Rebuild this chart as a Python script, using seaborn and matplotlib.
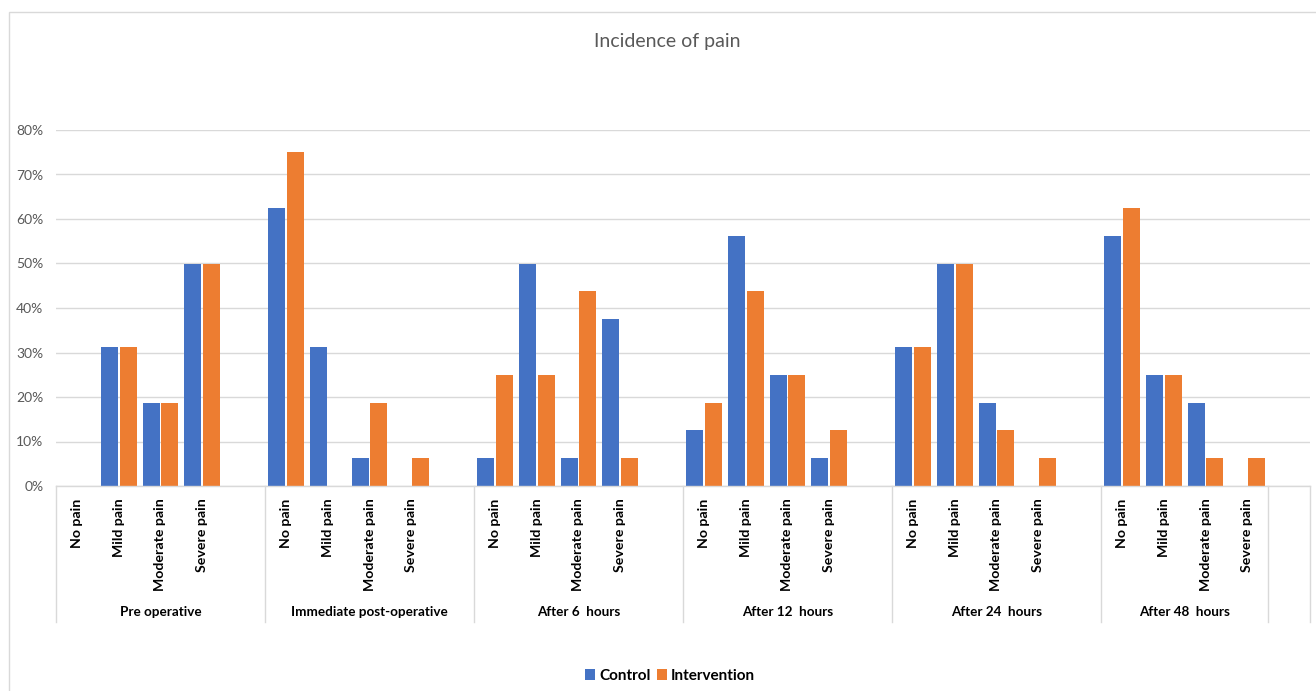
import matplotlib
matplotlib.use("Agg")
import matplotlib.pyplot as plt
import matplotlib.transforms as mtransforms
from matplotlib.patches import Patch, Rectangle
from matplotlib.ticker import FuncFormatter, MultipleLocator
import seaborn as sns
import pandas as pd

# ---- data ----
groups = ["Pre operative", "Immediate post-operative", "After 6  hours",
          "After 12  hours", "After 24  hours", "After 48  hours"]
levels = ["No pain", "Mild pain", "Moderate pain", "Severe pain"]
series = ["Control", "Intervention"]
control = [
    [0, 31.25, 18.75, 50],
    [62.5, 31.25, 6.25, 0],
    [6.25, 50, 6.25, 37.5],
    [12.5, 56.25, 25, 6.25],
    [31.25, 50, 18.75, 0],
    [56.25, 25, 18.75, 0],
]
intervention = [
    [0, 31.25, 18.75, 50],
    [75, 0, 18.75, 6.25],
    [25, 25, 43.75, 6.25],
    [18.75, 43.75, 25, 12.5],
    [31.25, 50, 12.5, 6.25],
    [62.5, 25, 6.25, 6.25],
]
colors = ["#4472C4", "#ED7D31"]

# ---- build table ----
rows = []
for gi, g in enumerate(groups):
    for li, lv in enumerate(levels):
        key = f"{gi}|{lv}"
        rows.append({"slot": key, "Series": series[0], "value": control[gi][li] / 100})
        rows.append({"slot": key, "Series": series[1], "value": intervention[gi][li] / 100})
df = pd.DataFrame(rows)

order, ticklabels, group_spans = [], [], []
for gi, g in enumerate(groups):
    start = len(order)
    for lv in levels:
        order.append(f"{gi}|{lv}")
        ticklabels.append(lv)
    if gi < len(groups) - 1:
        order.append(f"{gi}|_blank")
        ticklabels.append("")
    group_spans.append((start, len(order)))
order.append("extra|_blank")
ticklabels.append("")

# ---- figure ----
W, H = 1316, 691
fig = plt.figure(figsize=(W / 100, H / 100), dpi=100)
fig.patch.set_facecolor("white")
FONT = "Lato"
plt.rcParams["font.family"] = [FONT, "DejaVu Sans"]

ax = fig.add_axes([56 / W, (H - 486) / H, (1310 - 56) / W, (486 - 130) / H])
sns.barplot(data=df, x="slot", y="value", hue="Series", order=order,
            hue_order=series, palette=colors, errorbar=None, width=0.9,
            gap=0.1, legend=False, saturation=1, ax=ax)

ax.set_ylim(0, 0.8)
ax.set_xlim(-0.5, len(order) - 0.5)
ax.yaxis.set_major_locator(MultipleLocator(0.1))
ax.yaxis.set_major_formatter(FuncFormatter(lambda v, p: f"{v*100:.0f}%"))
ax.grid(axis="y", color="#D9D9D9", linewidth=1)
ax.set_axisbelow(True)
for s in ["top", "right", "left"]:
    ax.spines[s].set_visible(False)
ax.spines["bottom"].set_color("#D9D9D9")
ax.spines["bottom"].set_linewidth(1)
ax.tick_params(axis="y", length=0, labelsize=10, labelcolor="#595959", pad=9)
ax.set_xlabel("")
ax.set_ylabel("")
ax.set_xticks(range(len(order)))
ax.set_xticklabels(ticklabels, rotation=90, fontweight="bold", fontsize=10.2,
                   color="#000000", va="top", ha="center")
ax.tick_params(axis="x", length=0, pad=9)

# group labels and separators
trans = mtransforms.blended_transform_factory(ax.transData, ax.transAxes)
axis_h = 486 - 130
sep_bottom = -(622 - 486) / axis_h
label_y = -(612 - 486) / axis_h
for (a, b), g in zip(group_spans, groups):
    ax.text((a + b - 1) / 2, label_y, g, transform=trans, ha="center",
            va="center", fontsize=9.7, fontweight="bold", color="#000000")
bounds = sorted(set([s[0] for s in group_spans] + [s[1] for s in group_spans] + [len(order)]))
for bx in bounds:
    ax.plot([bx - 0.5, bx - 0.5], [0, sep_bottom], transform=trans,
            color="#D9D9D9", linewidth=1, clip_on=False)

# title
fig.text(667 / W, 1 - 42 / H, "Incidence of pain", ha="center", va="center",
         fontsize=14, color="#595959")

# legend
handles = [Patch(facecolor=c, label=s) for c, s in zip(colors, series)]
leg = fig.legend(handles=handles, loc="center", bbox_to_anchor=(670 / W, 1 - 676 / H),
                 ncol=2, frameon=False, handlelength=0.7, handleheight=0.7,
                 handletextpad=0.25, columnspacing=0.4,
                 prop={"family": FONT, "weight": "bold", "size": 11})

# chart border
fig.patches.append(Rectangle((9 / W, -0.05), 1.2, 1 - 12 / H + 0.05,
                             transform=fig.transFigure, fill=False,
                             edgecolor="#D9D9D9", linewidth=1))

fig.savefig("out.png", dpi=100, facecolor="white")
